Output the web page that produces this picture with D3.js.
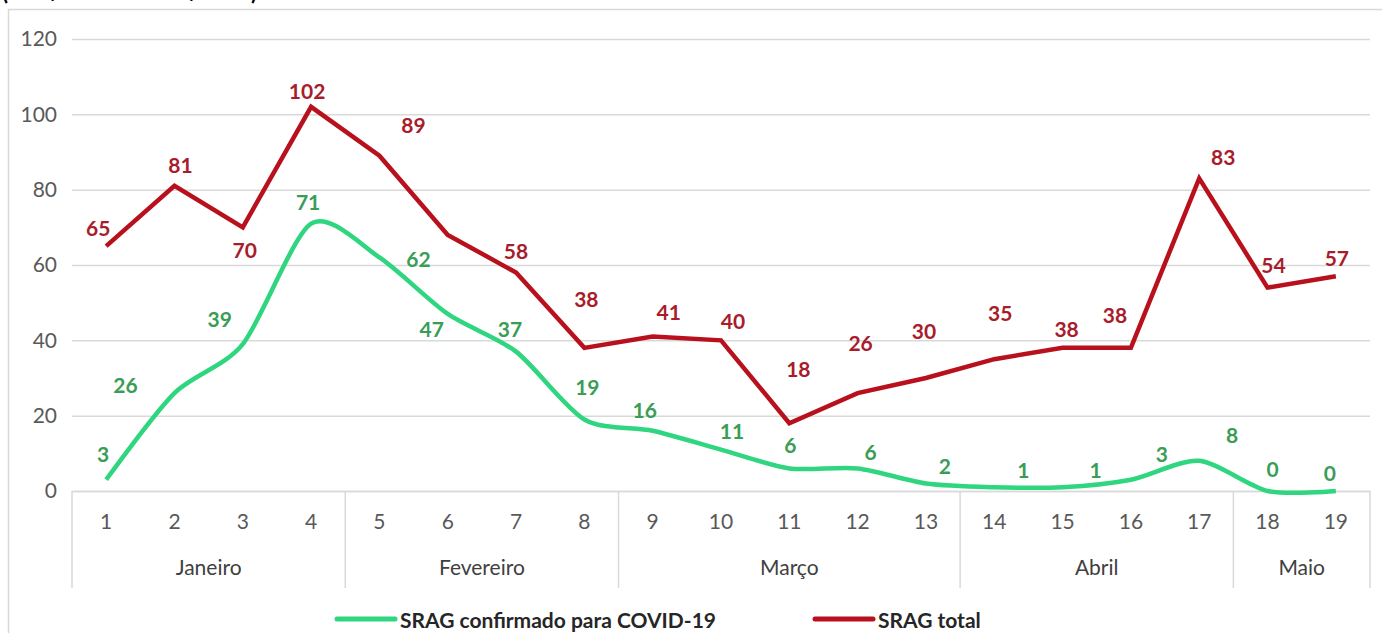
<!DOCTYPE html>
<html>
<head>
<meta charset="utf-8">
<script src="https://cdn.jsdelivr.net/npm/d3@7"></script>
<style>
  body { margin: 0; background: #fff; overflow: hidden; }
  text { font-family: Lato, "Open Sans", sans-serif; }
</style>
</head>
<body>
<div id="chart"></div>
<script>
// semanas epidemiológicas e meses
const semanas = [1, 2, 3, 4, 5, 6, 7, 8, 9, 10, 11, 12, 13, 14, 15, 16, 17, 18, 19];
const meses = [
  { nome: "Janeiro", ini: 1, fim: 4 },
  { nome: "Fevereiro", ini: 5, fim: 8 },
  { nome: "Março", ini: 9, fim: 13 },
  { nome: "Abril", ini: 14, fim: 17 },
  { nome: "Maio", ini: 18, fim: 19 }
];
const sragCovid = [3, 26, 39, 71, 62, 47, 37, 19, 16, 11, 6, 6, 2, 1, 1, 3, 8, 0, 0];
const sragTotal = [65, 81, 70, 102, 89, 68, 58, 38, 41, 40, 18, 26, 30, 35, 38, 38, 83, 54, 57];
const yTicks = [0, 20, 40, 60, 80, 100, 120];

// deslocamento dos rótulos (dx, dy) em px, como no gráfico original
const offTotal = [[-8,-18],[6,-20],[2,23],[-4,-15],[34,-30],null,[0,-21],[2,-48],[16,-24],[12,-19],
  [9,-54],[3,-49],[-2,-46],[6,-46],[4,-18],[-16,-32],[24,-21],[6,-22],[1,-18]];
const offCovid = [[-3,-25],[-49,-7],[-23,-24],[-3,-21],[39,2],[-16,16],[-6,-22],[3,-32],[-8,-20],[11,-18],
  [1,-23],[13,-16],[19,-17],[29,-17],[33,-17],[31,-25],[33,-25],[5,-21],[-6,-17]];

const W = 1382, H = 633;
const mLeft = 72, mRight = 1370, mTop = 39, mBottom = 491;

const svg = d3.select("#chart").append("svg")
  .attr("width", W).attr("height", H);

// título (cortado no topo da imagem)
svg.append("text")
  .attr("x", 2).attr("y", 0)
  .attr("font-size", 22).attr("font-weight", "bold").attr("fill", "#000")
  .text("(SE 1/2021 a SE 19/2021)");

// moldura
svg.append("rect")
  .attr("x", 8.5).attr("y", 9.5).attr("width", 1420).attr("height", 700)
  .attr("fill", "none").attr("stroke", "#d9d9d9").attr("stroke-width", 1.5);

const x = d3.scaleBand().domain(semanas).range([mLeft, mRight]);
const y = d3.scaleLinear().domain([0, 120]).range([mBottom, mTop]);
const cx = d => x(d) + x.bandwidth() / 2;

// grade e eixo Y
const yAxis = svg.append("g")
  .attr("transform", `translate(${mLeft},0)`)
  .call(d3.axisLeft(y).tickValues(yTicks).tickSize(-(mRight - mLeft)).tickPadding(15));
yAxis.select(".domain").remove();
yAxis.selectAll("line").attr("stroke", "#d9d9d9").attr("stroke-width", 1.5);
yAxis.selectAll("text").attr("font-size", 21).attr("fill", "#595959")
  .attr("font-family", "Lato, sans-serif");

// eixo X: semanas
const xAxis = svg.append("g")
  .attr("transform", `translate(0,${mBottom})`)
  .call(d3.axisBottom(x).tickSize(0).tickPadding(23));
xAxis.select(".domain").attr("stroke", "#d9d9d9").attr("stroke-width", 1.5);
xAxis.selectAll("text").attr("font-size", 21).attr("fill", "#595959")
  .attr("font-family", "Lato, sans-serif");

// separadores dos meses
const bordas = [x(meses[0].ini)].concat(meses.map(m => x(m.fim) + x.bandwidth()));
svg.append("g").selectAll("line")
  .data(bordas)
  .enter().append("line")
  .attr("x1", d => d).attr("x2", d => d)
  .attr("y1", mBottom).attr("y2", 588)
  .attr("stroke", "#d9d9d9").attr("stroke-width", 1.5);

svg.append("g").selectAll("text")
  .data(meses)
  .enter().append("text")
  .attr("x", d => (x(d.ini) + x(d.fim) + x.bandwidth()) / 2)
  .attr("y", 568)
  .attr("dy", "0.35em")
  .attr("text-anchor", "middle")
  .attr("font-size", 21).attr("fill", "#404040")
  .text(d => d.nome);

// linhas
const lineTotal = d3.line()
  .x((d, i) => cx(semanas[i]))
  .y(d => y(d));
const lineCovid = d3.line()
  .x((d, i) => cx(semanas[i]))
  .y(d => y(d))
  .curve(d3.curveCardinal.tension(0.2));

svg.append("path")
  .datum(sragCovid)
  .attr("d", lineCovid)
  .attr("fill", "none").attr("stroke", "#2fd67f").attr("stroke-width", 4.5)
  .attr("stroke-linejoin", "round");

svg.append("path")
  .datum(sragTotal)
  .attr("d", lineTotal)
  .attr("fill", "none").attr("stroke", "#b8101c").attr("stroke-width", 4.5)
  .attr("stroke-linejoin", "miter");

// rótulos de dados
function rotulos(valores, offs, cor) {
  svg.append("g").selectAll("text")
    .data(valores.map((v, i) => ({ v, i, o: offs[i] })).filter(d => d.o))
    .enter().append("text")
    .attr("x", d => cx(semanas[d.i]) + d.o[0])
    .attr("y", d => y(d.v) + d.o[1])
    .attr("dy", "0.35em")
    .attr("text-anchor", "middle")
    .attr("font-size", 21).attr("font-weight", "bold").attr("fill", cor)
    .text(d => d.v);
}
rotulos(sragTotal, offTotal, "#a81c2c");
rotulos(sragCovid, offCovid, "#3a9d55");

// legenda
const legenda = [
  { nome: "SRAG confirmado para COVID-19", cor: "#2fd67f", x: 337 },
  { nome: "SRAG total", cor: "#b8101c", x: 815 }
];
const lg = svg.append("g").selectAll("g")
  .data(legenda)
  .enter().append("g")
  .attr("transform", d => `translate(${d.x},619)`);
lg.append("line")
  .attr("x1", 0).attr("x2", 58).attr("y1", 0).attr("y2", 0)
  .attr("stroke", d => d.cor).attr("stroke-width", 5).attr("stroke-linecap", "round");
lg.append("text")
  .attr("x", 63).attr("y", 2).attr("dy", "0.35em")
  .attr("font-size", 21).attr("font-weight", "bold").attr("fill", "#262626")
  .text(d => d.nome);
</script>
</body>
</html>
